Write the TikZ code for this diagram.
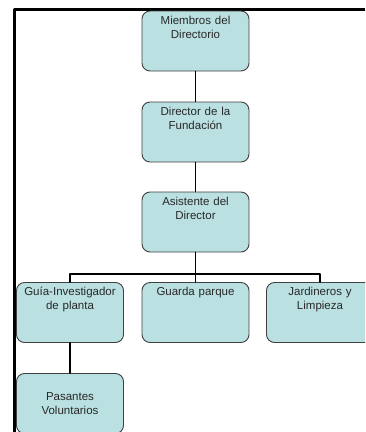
\documentclass[tikz,border=0pt]{standalone}
\usepackage{fontspec}
\setmainfont{Liberation Sans}
\definecolor{cajaazul}{RGB}{186,224,226}
\definecolor{bordegris}{RGB}{64,64,64}
\definecolor{textogris}{RGB}{40,40,40}
\newcommand{\arriba}[1]{\parbox[c][60pt][t]{105pt}{\centering\vspace*{5pt}#1}}
\begin{document}
\begin{tikzpicture}[x=1pt, y=-1pt, font=\fontsize{11.5}{14}\selectfont, line join=round, line cap=round,
	caja/.style={draw=bordegris, fill=cajaazul, rounded corners=8pt, line width=0.9pt, minimum width=107pt, minimum height=60pt, inner sep=0pt, text width=105pt, align=center, text=textogris},
	linea/.style={line width=1.6pt}]
			\clip (0,0) rectangle (365,432);
			\draw[line width=3pt, line cap=butt] (14.5,432)--(14.5,9.5)--(365,9.5);
			\node[caja] (mie) at (195.5,41) {\arriba{Miembros del\\Directorio}};
			\node[caja] (dir) at (195.5,132) {\arriba{Director de la\\Fundación}};
			\node[caja] (asi) at (195.5,222) {\arriba{Asistente del\\Director}};
			\node[caja] (gui) at (70,312.5) {\arriba{Guía-Investigador\\de planta}};
			\node[caja] (gua) at (195.5,312.5) {\arriba{Guarda parque}};
			\node[caja] (jar) at (320,312.5) {\arriba{Jardineros y\\Limpieza}};
			\node[caja] (pas) at (70,403.5) {Pasantes\\Voluntarios};
			\coordinate (bus) at (195.5,274);
			\draw[linea] (mie)--(dir) (dir)--(asi) (asi)--(bus)--(gua);
			\draw[linea] (gui.north)|-(bus)-|(jar.north);
			\draw[linea] (gui)--(pas);
		\end{tikzpicture}
\end{document}
